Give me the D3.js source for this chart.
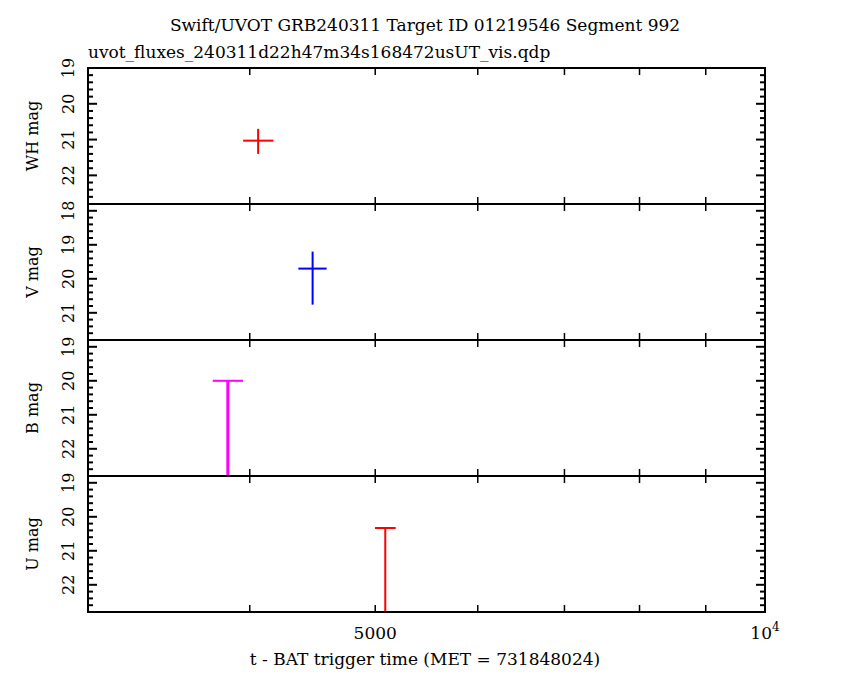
<!DOCTYPE html>
<html><head><meta charset="utf-8">
<script src="https://cdn.jsdelivr.net/npm/d3@7"></script>
<style>body{margin:0;background:#fff}</style>
</head><body><div id="chart"></div>
<script>
// datos
const panelNames = ["WH mag", "V mag", "B mag", "U mag"];
const panelDomains = [[19, 22.8], [17.8, 21.8], [18.8, 22.8], [18.8, 22.8]];
const panelTicks = [[19, 20, 21, 22], [18, 19, 20, 21], [19, 20, 21, 22], [19, 20, 21, 22]];
// puntos: panel, t, t_lo, t_hi, mag, mag_lo, mag_hi
const detections = [
  { panel: 0, t: 4060, tLo: 3953, tHi: 4172, mag: 21.03, magLo: 20.7, magHi: 21.4, color: "#ff0000" },
  { panel: 1, t: 4473, tLo: 4361, tHi: 4586, mag: 19.7, magLo: 19.2, magHi: 20.76, color: "#0000ff" }
];
// limites superiores: cap at mag, bar down to bottom
const upperLimits = [
  { panel: 2, t: 3847, tLo: 3745, tHi: 3952, mag: 20.0, color: "#ff00ff" },
  { panel: 3, t: 5090, tLo: 4998, tHi: 5185, mag: 20.33, color: "#ff0000" }
];
const xTickMajor = [4000, 5000, 6000, 7000, 8000, 9000, 10000];

const W = 850, H = 680;
const pLeft = 88, pRight = 765, pTop = 68, panelH = 136;

const svg = d3.select("#chart").append("svg").attr("width", W).attr("height", H)
  .style("font-family", "'DejaVu Serif', serif");

const x = d3.scaleLog().domain([3000, 10000]).range([pLeft, pRight]);

svg.append("text").attr("x", 425).attr("y", 31).attr("text-anchor", "middle")
  .style("font-size", "17px").text("Swift/UVOT GRB240311 Target ID 01219546 Segment 992");
svg.append("text").attr("x", pLeft).attr("y", 58)
  .style("font-size", "17px").text("uvot_fluxes_240311d22h47m34s168472usUT_vis.qdp");

panelNames.forEach((name, i) => {
  const y0 = pTop + i * panelH, y1 = y0 + panelH;
  const y = d3.scaleLinear().domain(panelDomains[i]).range([y0, y1]);
  const g = svg.append("g");

  // ticks
  const minor = d3.range(Math.ceil(panelDomains[i][0] * 5), Math.floor(panelDomains[i][1] * 5) + 1).map(v => v / 5);
  minor.forEach(v => {
    const major = Math.abs(v - Math.round(v)) < 1e-6;
    const len = major ? 9 : 5;
    g.append("line").attr("x1", pLeft).attr("x2", pLeft + len).attr("y1", y(v)).attr("y2", y(v)).attr("stroke", "#000").attr("stroke-width", 2);
    g.append("line").attr("x1", pRight - len).attr("x2", pRight).attr("y1", y(v)).attr("y2", y(v)).attr("stroke", "#000").attr("stroke-width", 2);
  });
  xTickMajor.forEach(v => {
    g.append("line").attr("x1", x(v)).attr("x2", x(v)).attr("y1", y0).attr("y2", y0 + 7).attr("stroke", "#000").attr("stroke-width", 1.5);
    g.append("line").attr("x1", x(v)).attr("x2", x(v)).attr("y1", y1 - 7).attr("y2", y1).attr("stroke", "#000").attr("stroke-width", 1.5);
  });

  panelTicks[i].forEach(v => {
    g.append("text").attr("transform", `translate(74,${y(v)}) rotate(-90)`)
      .attr("text-anchor", "middle").style("font-size", "16px").text(v);
  });
  g.append("text").attr("transform", `translate(38,${(y0 + y1) / 2}) rotate(-90)`)
    .attr("text-anchor", "middle").style("font-size", "16px").text(name);

  detections.filter(d => d.panel === i).forEach(d => {
    g.append("line").attr("x1", x(d.tLo)).attr("x2", x(d.tHi)).attr("y1", y(d.mag)).attr("y2", y(d.mag)).attr("stroke", d.color).attr("stroke-width", 2);
    g.append("line").attr("x1", x(d.t)).attr("x2", x(d.t)).attr("y1", y(d.magLo)).attr("y2", y(d.magHi)).attr("stroke", d.color).attr("stroke-width", 2);
  });
  upperLimits.filter(d => d.panel === i).forEach(d => {
    g.append("line").attr("x1", x(d.tLo)).attr("x2", x(d.tHi)).attr("y1", y(d.mag)).attr("y2", y(d.mag)).attr("stroke", d.color).attr("stroke-width", 2);
    g.append("line").attr("x1", x(d.t)).attr("x2", x(d.t)).attr("y1", y(d.mag)).attr("y2", y1).attr("stroke", d.color).attr("stroke-width", d.color === "#ff00ff" ? 3 : 2);
  });

  g.append("rect").attr("x", pLeft).attr("y", y0).attr("width", pRight - pLeft).attr("height", panelH)
    .attr("fill", "none").attr("stroke", "#000").attr("stroke-width", 2);
});

const pBottom = pTop + 4 * panelH;
svg.append("text").attr("x", x(5000)).attr("y", pBottom + 27).attr("text-anchor", "middle")
  .style("font-size", "17px").text("5000");
const t4 = svg.append("text").attr("x", x(10000)).attr("y", pBottom + 27).attr("text-anchor", "middle").style("font-size", "17px");
t4.append("tspan").text("10");
t4.append("tspan").attr("dy", -8).style("font-size", "12px").text("4");
svg.append("text").attr("x", 425).attr("y", pBottom + 53).attr("text-anchor", "middle")
  .style("font-size", "17px").text("t - BAT trigger time (MET = 731848024)");
</script></body></html>
